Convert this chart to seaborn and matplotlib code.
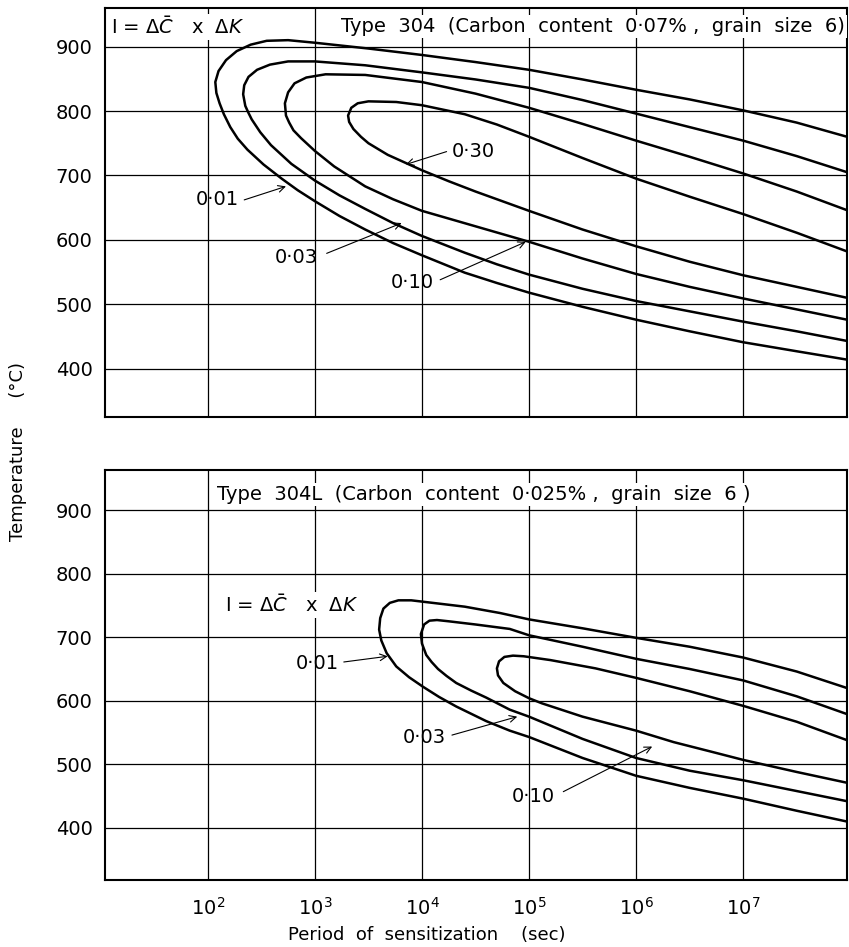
import pandas as pd
import seaborn as sns
import matplotlib.pyplot as plt
from matplotlib.ticker import FixedLocator, NullLocator, LogFormatterMathtext

###### data: log10(period, sec) and temperature (C) along each curve ######
# Type 304 (carbon 0.07 %)
t304_001_logt = [7.97, 7.5, 7.0, 6.5, 6.0, 5.5, 5.0, 4.5, 4.0, 3.5, 3.0, 2.75, 2.55, 2.4, 2.27, 2.17, 2.1, 2.07,
                 2.08, 2.11, 2.15, 2.21, 2.28, 2.37, 2.52, 2.69, 2.84, 3.0, 3.23, 3.47, 3.73, 4.0, 4.4, 4.7,
                 5.0, 5.5, 6.0, 6.5, 7.0, 7.5, 7.97]
t304_001_temp = [760, 782, 801, 818, 833, 849, 864, 876, 887, 897, 906, 910, 909, 903, 893, 879, 862, 845,
                 828, 812, 795, 775, 757, 740, 717, 695, 677, 660, 637, 616, 595, 576, 549, 533,
                 518, 496, 476, 458, 441, 427, 414]

t304_003_logt = [7.97, 7.5, 7.0, 6.5, 6.0, 5.5, 5.0, 4.5, 4.0, 3.47, 3.0, 2.75, 2.58, 2.46, 2.38, 2.34, 2.33,
                 2.35, 2.38, 2.41, 2.49, 2.59, 2.78, 3.0, 3.23, 3.47, 3.73, 4.0, 4.4, 4.7, 5.0, 5.5, 6.0,
                 6.5, 7.0, 7.5, 7.97]
t304_003_temp = [705, 730, 754, 775, 796, 817, 836, 849, 860, 871, 877, 877, 872, 864, 853, 840, 826,
                 808, 797, 787, 767, 747, 718, 692, 669, 648, 626, 606, 580, 562, 546, 524, 505,
                 489, 473, 458, 443]

t304_010_logt = [7.97, 7.5, 7.0, 6.5, 6.0, 5.5, 5.0, 4.5, 4.0, 3.47, 3.1, 2.92, 2.81, 2.75, 2.72, 2.73, 2.76,
                 2.8, 2.87, 3.0, 3.18, 3.47, 3.73, 4.0, 4.5, 5.0, 5.5, 6.0, 6.5, 7.0, 7.5, 7.97]
t304_010_temp = [646, 675, 703, 729, 754, 780, 805, 827, 845, 856, 857, 852, 843, 829, 812, 793, 782,
                 770, 758, 738, 714, 683, 663, 645, 621, 597, 571, 547, 527, 509, 492, 476]

t304_030_logt = [7.97, 7.5, 7.0, 6.5, 6.0, 5.5, 5.0, 4.7, 4.4, 4.0, 3.76, 3.5, 3.4, 3.34, 3.31, 3.32, 3.36,
                 3.43, 3.5, 3.68, 3.88, 4.0, 4.25, 4.5, 5.0, 5.5, 6.0, 6.5, 7.0, 7.5, 7.97]
t304_030_temp = [582, 611, 640, 667, 695, 727, 760, 779, 795, 809, 814, 815, 812, 805, 793, 783, 772,
                 760, 750, 732, 717, 708, 691, 675, 645, 616, 590, 566, 545, 527, 510]

# Type 304L (carbon 0.025 %)
t304l_001_logt = [7.97, 7.5, 7.0, 6.5, 6.0, 5.5, 5.0, 4.73, 4.4, 4.1, 3.9, 3.78, 3.7, 3.64, 3.61, 3.6, 3.62,
                  3.67, 3.76, 3.88, 4.01, 4.16, 4.32, 4.6, 4.82, 5.0, 5.5, 6.0, 6.5, 7.0, 7.5, 7.97]
t304l_001_temp = [620, 646, 668, 685, 699, 714, 728, 738, 748, 754, 758, 758, 754, 745, 730, 712, 695,
                  675, 654, 637, 622, 606, 591, 568, 553, 543, 510, 482, 463, 446, 427, 410]

t304l_003_logt = [7.97, 7.5, 7.0, 6.5, 6.0, 5.5, 5.0, 4.82, 4.5, 4.25, 4.14, 4.07, 4.02, 3.99, 4.0, 4.04,
                  4.09, 4.15, 4.23, 4.32, 4.46, 4.6, 4.82, 5.0, 5.5, 6.0, 6.5, 7.0, 7.5, 7.97]
t304l_003_temp = [579, 607, 632, 650, 666, 685, 703, 713, 720, 725, 727, 726, 720, 705, 690, 672,
                  661, 650, 639, 628, 616, 605, 586, 575, 540, 510, 490, 475, 458, 442]

t304l_010_logt = [7.97, 7.5, 7.0, 6.5, 6.0, 5.62, 5.2, 4.95, 4.85, 4.77, 4.72, 4.7, 4.71, 4.76, 4.87, 5.0,
                  5.12, 5.5, 6.0, 6.35, 6.7, 7.0, 7.5, 7.97]
t304l_010_temp = [538, 567, 592, 615, 636, 651, 664, 670, 671, 669, 662, 651, 640, 628, 615, 604,
                  596, 575, 553, 535, 520, 507, 488, 471]

temp_ticks = [400, 500, 600, 700, 800, 900]
time_ticks = [1e2, 1e3, 1e4, 1e5, 1e6, 1e7]

###### labels: text, text position, arrow start, arrow tip (log10 t, C) ######
top_labels = [('0·01', (2.09, 662), (2.34, 662), (2.73, 683)),
              ('0·03', (2.83, 572), (3.11, 579), (3.81, 626)),
              ('0·10', (3.91, 533), (4.17, 538), (4.97, 597)),
              ('0·30', (4.48, 737), (4.23, 737), (3.85, 717))]
bottom_labels = [('0·01', (3.02, 659), (3.27, 661), (3.68, 670)),
                 ('0·03', (4.02, 543), (4.28, 546), (4.89, 575)),
                 ('0·10', (5.04, 449), (5.32, 457), (6.15, 528))]


def curves_frame(curves):
    rows = []
    for label, logt, temp in curves:
        for i, (lt, tc) in enumerate(zip(logt, temp)):
            rows.append({'curve': label, 'step': i, 'time': 10 ** lt, 'temp': tc})
    return pd.DataFrame(rows)


top = curves_frame([('0.01', t304_001_logt, t304_001_temp),
                    ('0.03', t304_003_logt, t304_003_temp),
                    ('0.10', t304_010_logt, t304_010_temp),
                    ('0.30', t304_030_logt, t304_030_temp)])
bottom = curves_frame([('0.01', t304l_001_logt, t304l_001_temp),
                       ('0.03', t304l_003_logt, t304l_003_temp),
                       ('0.10', t304l_010_logt, t304l_010_temp)])

sns.set_theme(style='white')
plt.rcParams['font.family'] = ['DejaVu Sans']
plt.rcParams['mathtext.fontset'] = 'dejavusans'
plt.rcParams['text.color'] = 'black'

fig = plt.figure(figsize=(8.49, 9.47), dpi=100)
ax1 = fig.add_axes([0.1237, 0.5597, 0.8740, 0.4319])
ax2 = fig.add_axes([0.1237, 0.0707, 0.8740, 0.4330])

box = dict(facecolor='white', edgecolor='none', pad=1.5)

for ax, df, ylim, labels in [(ax1, top, (325, 960), top_labels),
                             (ax2, bottom, (318, 963), bottom_labels)]:
    sns.lineplot(data=df, x='time', y='temp', units='curve', estimator=None, sort=False,
                 color='black', linewidth=1.8, legend=False, ax=ax)
    for ln in ax.lines:
        ln.set_solid_joinstyle('round')
    ax.set_xscale('log')
    ax.set_xlim(10 ** 1.04, 10 ** 7.97)
    ax.set_ylim(*ylim)
    ax.xaxis.set_major_locator(FixedLocator(time_ticks))
    ax.xaxis.set_minor_locator(NullLocator())
    ax.yaxis.set_major_locator(FixedLocator(temp_ticks))
    ax.grid(True, color='black', linewidth=0.9)
    ax.tick_params(length=0, labelsize=14, colors='black')
    ax.tick_params(axis='y', pad=9)
    ax.tick_params(axis='x', pad=12)
    for s in ax.spines.values():
        s.set_color('black')
        s.set_linewidth(1.5)
    ax.set_xlabel('')
    ax.set_ylabel('')
    for txt, pos, start, tip in labels:
        ax.text(10 ** pos[0], pos[1], txt, fontsize=14, ha='center', va='center')
        ax.annotate('', xy=(10 ** tip[0], tip[1]), xytext=(10 ** start[0], start[1]),
                    arrowprops=dict(arrowstyle='->', lw=0.8, color='black', shrinkA=0, shrinkB=0))

ax1.xaxis.set_ticklabels([])
ax2.xaxis.set_major_formatter(LogFormatterMathtext())

eq = r'I = $\Delta\bar{C}$   x  $\Delta K$'
ax1.text(10 ** 1.10, 931, eq, fontsize=14, ha='left', va='center', bbox=box)
ax1.text(10 ** 7.95, 931, 'Type  304  (Carbon  content  0·07% ,  grain  size  6)', fontsize=14,
         ha='right', va='center', bbox=box)
ax2.text(10 ** 2.16, 751, eq, fontsize=14, ha='left', va='center', bbox=box)
ax2.text(10 ** 2.09, 924, 'Type  304L  (Carbon  content  0·025% ,  grain  size  6 )', fontsize=14,
         ha='left', va='center', bbox=box)

fig.text(0.021, 0.523, 'Temperature     (°C)', rotation=90, fontsize=13, ha='center', va='center')
fig.text(0.503, 0.013, 'Period  of  sensitization    (sec)', fontsize=13, ha='center', va='center')

fig.savefig('out.png', dpi=100)
